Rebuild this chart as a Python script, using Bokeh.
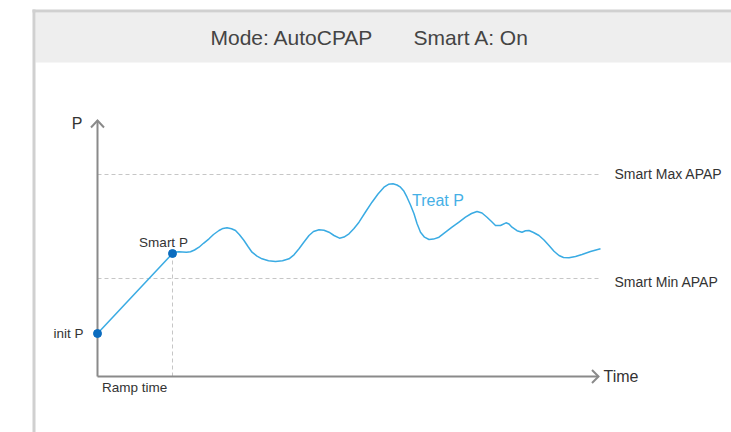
from bokeh.plotting import figure
from bokeh.models import Range1d, BoxAnnotation, Label
from bokeh.embed import file_html
from bokeh.resources import INLINE

# ---------------- data ----------------
header_mode = "Mode: AutoCPAP"
header_smart = "Smart A: On"

init_p = 4.3
smart_p = 12.3
ramp_time = 15.0
smart_min_apap = 9.8
smart_max_apap = 20.2
time_axis_end = 100.2
p_axis_end = 25.6
limit_line_end = 100.6

treat_t = [15.0, 15.6, 16.3, 17.0, 17.8, 18.6, 19.4, 20.3, 21.2, 22.3, 23.2,
           24.3, 25.1, 25.9, 26.8, 27.6, 28.4, 29.3, 30.1, 30.9, 31.9, 32.9,
           34.2, 35.6, 37.0, 38.3, 39.3, 40.3, 41.3, 42.3, 43.2, 44.3, 45.3,
           46.3, 47.3, 48.4, 49.3, 50.3, 51.3, 52.3, 53.6, 54.9, 56.1, 57.3,
           58.2, 59.1, 59.9, 60.6, 61.3, 61.9, 62.6, 63.3, 63.9, 64.6, 65.4,
           66.3, 67.2, 68.3, 69.6, 70.9, 72.3, 73.6, 74.8, 75.9, 76.9, 77.9,
           78.8, 79.6, 80.6, 81.7, 82.3, 82.9, 83.9, 84.9, 85.6, 86.3, 87.2,
           88.3, 89.3, 90.3, 91.3, 92.3, 93.2, 94.3, 95.6, 96.9, 98.6, 100.6]
treat_p = [12.3, 12.44, 12.47, 12.45, 12.42, 12.47, 12.65, 12.93, 13.32, 13.77,
           14.2, 14.6, 14.81, 14.87, 14.78, 14.6, 14.17, 13.6, 13.0, 12.43,
           12.04, 11.77, 11.57, 11.5, 11.57, 11.77, 12.17, 12.77, 13.45, 14.1,
           14.5, 14.67, 14.63, 14.43, 14.1, 13.83, 13.94, 14.27, 14.8, 15.43,
           16.45, 17.43, 18.25, 18.93, 19.22, 19.27, 19.15, 18.93, 18.52,
           17.93, 17.15, 16.27, 15.3, 14.43, 13.93, 13.7, 13.74, 13.93, 14.43,
           14.93, 15.44, 15.93, 16.3, 16.5, 16.35, 15.93, 15.5, 15.1, 15.1,
           15.37, 15.25, 14.93, 14.58, 14.43, 14.57, 14.6, 14.4, 14.1, 13.65,
           13.1, 12.52, 12.1, 11.9, 11.87, 12.0, 12.2, 12.5, 12.77]

label_p = "P"
label_time = "Time"
label_init = "init P"
label_smart = "Smart P"
label_ramp = "Ramp time"
label_max = "Smart Max APAP"
label_min = "Smart Min APAP"
label_treat = "Treat P"

# ---------------- layout ----------------
W, H = 731, 432
PX_T = 5.0      # pixels per time unit
PX_P = 10.0     # pixels per pressure unit
ORIGIN_X = 97   # canvas x of the chart origin
ORIGIN_Y = 376  # canvas y (from top) of the chart origin


def cx(x):
    return (x - ORIGIN_X) / PX_T


def cy(y):
    return (ORIGIN_Y - y) / PX_P


def dx(px):
    return px / PX_T


def dy(px):  # positive = downwards on screen
    return -px / PX_P


FONT = "Liberation Sans"
AXIS_C = "#8a8a8a"
DASH_C = "#c6c6c6"
CURVE_C = "#3aabe3"
DOT_C = "#0b6cbf"
TXT_C = "#333333"

p = figure(width=W, height=H, output_backend="svg", toolbar_location=None,
           x_range=Range1d(cx(0), cx(W)), y_range=Range1d(cy(H), cy(0)),
           min_border=0, outline_line_color=None,
           x_axis_location=None, y_axis_location=None,
           background_fill_color="white", border_fill_color="white")
p.grid.visible = False

# frame / header
p.add_layout(BoxAnnotation(left=cx(35), top=cy(12), bottom=cy(62),
                           fill_color="#eeeeee", fill_alpha=1, line_alpha=0))
p.add_layout(BoxAnnotation(left=cx(32), right=cx(35), top=cy(9),
                           fill_color="#d0d0d0", fill_alpha=1, line_alpha=0))
p.add_layout(BoxAnnotation(left=cx(32), top=cy(9), bottom=cy(12),
                           fill_color="#d0d0d0", fill_alpha=1, line_alpha=0))

p.add_layout(Label(x=cx(210), y=cy(37), text=header_mode, text_font=FONT,
                   text_font_size="21px", text_color="#444444",
                   text_align="left", text_baseline="middle"))
p.add_layout(Label(x=cx(413), y=cy(37), text=header_smart, text_font=FONT,
                   text_font_size="21px", text_color="#444444",
                   text_align="left", text_baseline="middle"))

# limit lines
p.segment(x0=[0, 0], y0=[smart_max_apap, smart_min_apap],
          x1=[limit_line_end, limit_line_end], y1=[smart_max_apap, smart_min_apap],
          line_color=DASH_C, line_width=1, line_dash="4 3")
# ramp time marker
p.segment(x0=[ramp_time], y0=[0], x1=[ramp_time], y1=[smart_p],
          line_color=DASH_C, line_width=1, line_dash="4 3")

# axes with open arrow heads
p.line([0, 0], [0, p_axis_end], line_color=AXIS_C, line_width=2)
p.line([0, time_axis_end], [0, 0], line_color=AXIS_C, line_width=2)
p.line([0 - dx(6.5), 0, 0 + dx(6.5)],
       [p_axis_end + dy(7), p_axis_end, p_axis_end + dy(7)],
       line_color=AXIS_C, line_width=2, line_join="miter")
p.line([time_axis_end - dx(6.5), time_axis_end, time_axis_end - dx(6.5)],
       [dy(-6.5), 0, dy(6.5)],
       line_color=AXIS_C, line_width=2, line_join="miter")

# ramp + treatment curve
p.line([0, ramp_time], [init_p, smart_p], line_color=CURVE_C, line_width=1.5)
p.line(treat_t, treat_p, line_color=CURVE_C, line_width=1.5, line_join="round")
p.scatter([0, ramp_time], [init_p, smart_p], size=8, color=DOT_C)


# labels
def lab(x, y, text, size, align="left", color=TXT_C):
    p.add_layout(Label(x=x, y=y, text=text, text_font=FONT,
                       text_font_size=size, text_color=color,
                       text_align=align, text_baseline="middle"))


lab(0 - dx(15), p_axis_end + dy(3), label_p, "16px", "right")
lab(time_axis_end + dx(5), dy(0), label_time, "16px")
lab(0 - dx(14), init_p, label_init, "13.5px", "right")
lab(ramp_time - dx(9), smart_p + dy(-11), label_smart, "13.5px", "center")
lab(0 + dx(4.5), dy(11), label_ramp, "13.5px")
lab(time_axis_end + dx(16), smart_max_apap + dy(-1), label_max, "14px")
lab(time_axis_end + dx(16), smart_min_apap + dy(3.4), label_min, "14px")
i_peak = treat_p.index(max(treat_p))
lab(treat_t[i_peak] + dx(19), treat_p[i_peak] + dy(17), label_treat, "16px",
    color="#45b0e6")

open("out.html", "w").write(file_html(p, INLINE))
